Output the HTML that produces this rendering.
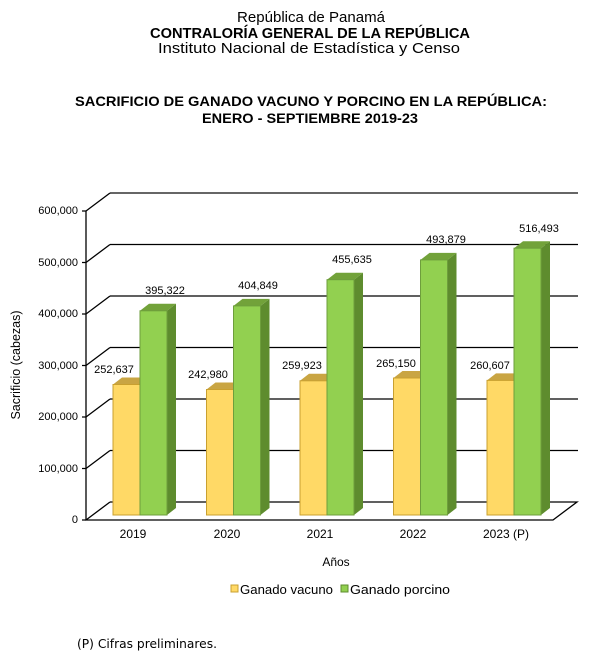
<!DOCTYPE html>
<html><head><meta charset="utf-8"><style>
html,body{margin:0;padding:0;background:#fff}
svg{display:block;font-family:"Liberation Sans",Arial,sans-serif}
</style></head><body>
<svg width="606" height="659" viewBox="0 0 606 659" xmlns="http://www.w3.org/2000/svg">
<rect width="606" height="659" fill="#fff"/>
<g text-anchor="middle" fill="#000">
<text x="311" y="22" font-size="15" textLength="148" lengthAdjust="spacingAndGlyphs">República de Panamá</text>
<text x="310" y="38" font-size="14.5" font-weight="bold" textLength="320" lengthAdjust="spacingAndGlyphs">CONTRALORÍA GENERAL DE LA REPÚBLICA</text>
<text x="309" y="53" font-size="15" textLength="302" lengthAdjust="spacingAndGlyphs">Instituto Nacional de Estadística y Censo</text>
<text x="311" y="106" font-size="13.5" font-weight="bold" textLength="472" lengthAdjust="spacingAndGlyphs">SACRIFICIO DE GANADO VACUNO Y PORCINO EN LA REPÚBLICA:</text>
<text x="310" y="123" font-size="13.5" font-weight="bold" textLength="216" lengthAdjust="spacingAndGlyphs">ENERO - SEPTIEMBRE 2019-23</text>
</g>
<g stroke="#000" stroke-width="1.3" fill="none">
<path d="M110 193H578" stroke="#666" stroke-width="2"/>
<path d="M110 244.5H578M110 296H578M110 347.5H578M110 399H578M110 450.5H578"/>
<path d="M86 211L110 193M86 262.5L110 244.5M86 314L110 296M86 365.5L110 347.5M86 417L110 399M86 468.5L110 450.5M86 520L110 502"/>
<path d="M86 211V520H553L577 502H110"/>
<path d="M82 211H86M82 262.5H86M82 314H86M82 365.5H86M82 417H86M82 468.5H86M82 520H86"/>
</g>
<g font-size="11" text-anchor="end">
<text x="78" y="214">600,000</text><text x="78" y="266">500,000</text><text x="78" y="317">400,000</text>
<text x="78" y="369">300,000</text><text x="78" y="420">200,000</text><text x="78" y="472">100,000</text><text x="78" y="523">0</text>
</g>
<text transform="translate(20,365) rotate(-90)" font-size="12.5" text-anchor="middle">Sacrificio (cabezas)</text>
<g stroke-width="1">
<polygon points="113,384.5 122,377.5 149,377.5 140,384.5" fill="#C9A543"/>
<rect x="113" y="384.5" width="27" height="130.5" fill="#FFD966" stroke="#C9A030"/>
<polygon points="167,310.8 176,303.8 176,508 167,515" fill="#5E8C2E"/>
<polygon points="140,310.8 149,303.8 176,303.8 167,310.8" fill="#72A23A"/>
<rect x="140" y="310.8" width="27" height="204.2" fill="#92D050" stroke="#6E9E3C"/>
<polygon points="206.5,389.5 215.5,382.5 242.5,382.5 233.5,389.5" fill="#C9A543"/>
<rect x="206.5" y="389.5" width="27" height="125.5" fill="#FFD966" stroke="#C9A030"/>
<polygon points="260.5,305.9 269.5,298.9 269.5,508 260.5,515" fill="#5E8C2E"/>
<polygon points="233.5,305.9 242.5,298.9 269.5,298.9 260.5,305.9" fill="#72A23A"/>
<rect x="233.5" y="305.9" width="27" height="209.1" fill="#92D050" stroke="#6E9E3C"/>
<polygon points="300,380.8 309,373.8 336,373.8 327,380.8" fill="#C9A543"/>
<rect x="300" y="380.8" width="27" height="134.2" fill="#FFD966" stroke="#C9A030"/>
<polygon points="354,279.7 363,272.7 363,508 354,515" fill="#5E8C2E"/>
<polygon points="327,279.7 336,272.7 363,272.7 354,279.7" fill="#72A23A"/>
<rect x="327" y="279.7" width="27" height="235.3" fill="#92D050" stroke="#6E9E3C"/>
<polygon points="393.5,378 402.5,371 429.5,371 420.5,378" fill="#C9A543"/>
<rect x="393.5" y="378" width="27" height="137" fill="#FFD966" stroke="#C9A030"/>
<polygon points="447.5,259.9 456.5,252.9 456.5,508 447.5,515" fill="#5E8C2E"/>
<polygon points="420.5,259.9 429.5,252.9 456.5,252.9 447.5,259.9" fill="#72A23A"/>
<rect x="420.5" y="259.9" width="27" height="255.1" fill="#92D050" stroke="#6E9E3C"/>
<polygon points="487,380.4 496,373.4 523,373.4 514,380.4" fill="#C9A543"/>
<rect x="487" y="380.4" width="27" height="134.6" fill="#FFD966" stroke="#C9A030"/>
<polygon points="541,248.2 550,241.2 550,508 541,515" fill="#5E8C2E"/>
<polygon points="514,248.2 523,241.2 550,241.2 541,248.2" fill="#72A23A"/>
<rect x="514" y="248.2" width="27" height="266.8" fill="#92D050" stroke="#6E9E3C"/>
</g>
<g font-size="11" text-anchor="middle">
<text x="114" y="373">252,637</text><text x="165" y="294">395,322</text>
<text x="208" y="378">242,980</text><text x="258" y="289">404,849</text>
<text x="302" y="369">259,923</text><text x="352" y="263">455,635</text>
<text x="396" y="367">265,150</text><text x="446" y="243">493,879</text>
<text x="490" y="369">260,607</text><text x="539" y="232">516,493</text>
</g>
<g font-size="12" text-anchor="middle">
<text x="133" y="538">2019</text><text x="227" y="538">2020</text><text x="320" y="538">2021</text>
<text x="413" y="538">2022</text><text x="506" y="538">2023 (P)</text>
<text x="336" y="566">Años</text>
</g>
<rect x="231" y="585" width="7" height="7" fill="#FFD966" stroke="#C9A030"/>
<text x="240" y="594" font-size="13" textLength="93" lengthAdjust="spacingAndGlyphs">Ganado vacuno</text>
<rect x="341" y="585" width="7" height="7" fill="#92D050" stroke="#5E8C2E"/>
<text x="350" y="594" font-size="13" textLength="100" lengthAdjust="spacingAndGlyphs">Ganado porcino</text>
<text x="77" y="648" font-size="12.5" font-family="'DejaVu Sans',sans-serif" textLength="140" lengthAdjust="spacingAndGlyphs">(P) Cifras preliminares.</text>
</svg>
</body></html>
